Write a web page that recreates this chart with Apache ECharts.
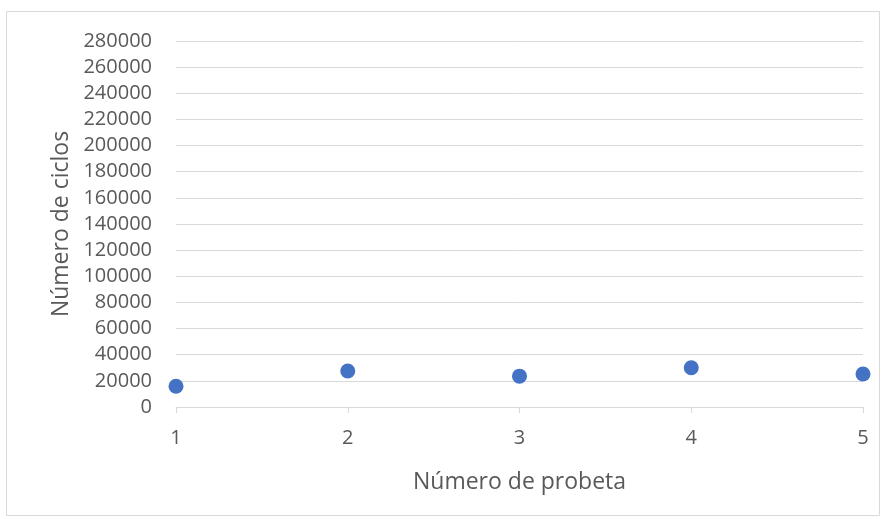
<!DOCTYPE html>
<html>
<head>
<meta charset="utf-8">
<script src="https://cdn.jsdelivr.net/npm/echarts@6/dist/echarts.min.js"></script>
<style>
  html, body { margin: 0; padding: 0; background: #fff; }
  #chart { width: 886px; height: 519px; }
</style>
</head>
<body>
<div id="chart"></div>
<script>
// Ensayo de fatiga: ciclos hasta rotura por probeta
const probetas = [1, 2, 3, 4, 5];
const ciclos = [15900, 27500, 23600, 30000, 25200];
const yTicksMax = 280000;
const yTickStep = 20000;

const chart = echarts.init(document.getElementById('chart'), null, { renderer: 'canvas' });
const font = '"Open Sans", "Noto Sans", sans-serif';
const textGray = '#595959';

chart.setOption({
  animation: false,
  backgroundColor: '#ffffff',
  graphic: [{
    type: 'rect',
    shape: { x: 6.5, y: 11.5, width: 873, height: 504 },
    style: { fill: 'none', stroke: '#d9d9d9', lineWidth: 1 },
    silent: true
  }],
  grid: { left: 176, right: 23, top: 41, bottom: 112 },
  xAxis: {
    type: 'value',
    min: 1, max: 5, interval: 1,
    name: 'Número de probeta',
    nameLocation: 'middle',
    nameGap: 64,
    nameTextStyle: { color: textGray, fontSize: 23, fontFamily: font },
    axisLine: { show: true, lineStyle: { color: '#d9d9d9', width: 1 } },
    axisTick: { show: true, length: 6, lineStyle: { color: '#d9d9d9' } },
    axisLabel: { color: textGray, fontSize: 20, fontFamily: font, margin: 21 },
    splitLine: { show: false }
  },
  yAxis: {
    type: 'value',
    min: 0, max: yTicksMax, interval: yTickStep,
    name: 'Número de ciclos',
    nameLocation: 'middle',
    nameGap: 100,
    nameRotate: 90,
    nameTextStyle: { color: textGray, fontSize: 23, fontFamily: font },
    axisLine: { show: false },
    axisTick: { show: false },
    axisLabel: {
      color: textGray, fontSize: 20, fontFamily: font, margin: 24,
      formatter: v => String(v)
    },
    splitLine: { show: true, lineStyle: { color: '#d9d9d9', width: 1 } }
  },
  series: [{
    type: 'scatter',
    data: probetas.map((p, i) => [p, ciclos[i]]),
    symbol: 'circle',
    symbolSize: 15,
    itemStyle: { color: '#4472C4', opacity: 1 },
    clip: false
  }]
});
</script>
</body>
</html>
